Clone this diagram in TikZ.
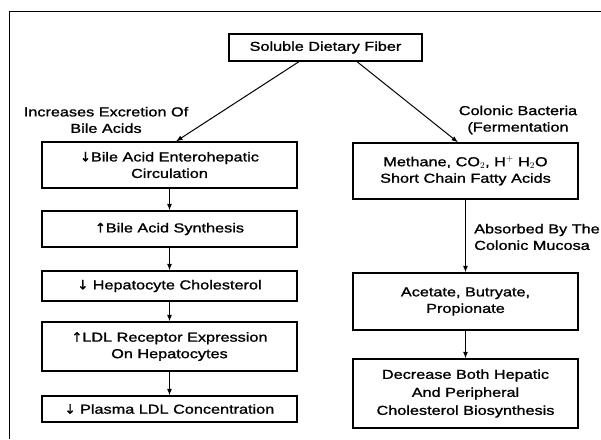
\documentclass[tikz,border=0pt]{standalone}
\usepackage{fontspec}
\setmainfont[FakeStretch=1.25,FakeBold=1.2]{Liberation Sans}
\newfontfamily\symf{DejaVu Sans}[FakeBold=1.5]
\usetikzlibrary{arrows.meta,calc}
\begin{document}
\begin{tikzpicture}[x=1pt,y=-1pt,
  box/.style={draw, line width=1.3pt, inner sep=0pt, align=center, font=\fontsize{13}{16.5}\selectfont},
  lbl/.style={inner sep=0pt, font=\fontsize{13}{16.5}\selectfont},
  arr/.style={-{Latex[length=6.5pt,width=5pt]}, line width=1pt}]
\useasboundingbox (0,0) rectangle (601,439);
\draw[line width=1pt] (9,439) -- (9,11) -- (601,11);
% top
\node[box, minimum width=193pt, minimum height=27pt] (top) at (325.5,47.5) {Soluble Dietary Fiber};
% left column
\node[box, minimum width=255pt, minimum height=46pt] (l1) at (169.5,165) {{\symf ↓}Bile Acid Enterohepatic\\Circulation};
\node[box, minimum width=255pt, minimum height=36pt] (l2) at (169.5,229) {{\symf ↑}Bile Acid Synthesis};
\node[box, minimum width=255pt, minimum height=30pt] (l3) at (169.5,286) {{\symf ↓} Hepatocyte Cholesterol};
\node[box, minimum width=255pt, minimum height=49pt] (l4) at (169.5,346.5) {{\symf ↑}LDL Receptor Expression\\On Hepatocytes};
\node[box, minimum width=255pt, minimum height=26pt] (l5) at (169.5,409) {{\symf ↓} Plasma LDL Concentration};
% right column
\node[box, minimum width=225pt, minimum height=56pt] (r1) at (465.5,171) {Methane, CO$_2$, H$^+$ H$_2$O\\Short Chain Fatty Acids};
\node[box, minimum width=225pt, minimum height=57pt] (r2) at (465.5,301.5) {Acetate, Butryate,\\Propionate};
\node[box, minimum width=225pt, minimum height=69pt, font=\fontsize{13}{18}\selectfont] (r3) at (465.5,393.5) {Decrease Both Hepatic\\And Peripheral\\Cholesterol Biosynthesis};
% labels
\node[lbl, align=center] (lab1) at (106,120) {Increases Excretion Of\\Bile Acids};
\node[lbl, align=center] (lab2) at (518,120) {Colonic Bacteria\\(Fermentation};
\node[lbl, align=left, anchor=west] (lab3) at (474,237) {Absorbed By The\\Colonic Mucosa};
% arrows
\draw[arr] ($(top.south)+(-26.5,0)$) -- ($(l1.north)+(6.5,0)$);
\draw[arr] ($(top.south)+(31.5,0)$) -- ($(r1.north)+(-7.5,0)$);
\draw[arr] (l1) -- (l2);
\draw[arr] (l2) -- (l3);
\draw[arr] (l3) -- (l4);
\draw[arr] (l4) -- (l5);
\draw[arr] (r1) -- (r2);
\draw[arr] (r2) -- (r3);
\end{tikzpicture}
\end{document}
